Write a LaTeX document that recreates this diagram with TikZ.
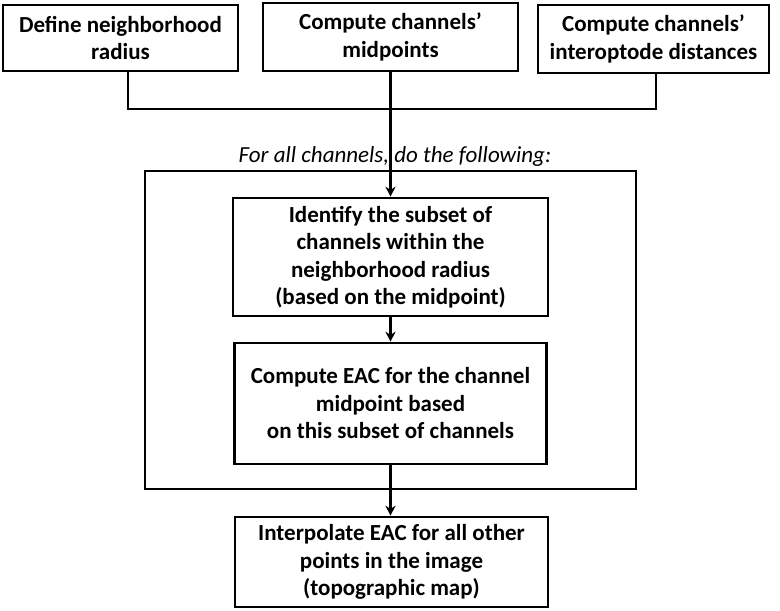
\documentclass[tikz,border=0pt]{standalone}
\usepackage{fontspec}
\setmainfont{Carlito}
\usetikzlibrary{arrows.meta}
\begin{document}
\begin{tikzpicture}[x=1pt,y=-1pt,
  box/.style={draw=black,line width=2.6pt,inner sep=0pt,align=center,
    font=\bfseries\fontsize{23}{27.5}\selectfont},
  conn/.style={draw=black,line width=2.6pt},
  arr/.style={conn,-{Stealth[length=10pt,width=10pt]}}]
\useasboundingbox (0,0) rectangle (780,611);
% top row
\node[box,minimum width=235pt,minimum height=66pt] (b1) at (120.5,38) {Define neighborhood\\radius};
\node[box,minimum width=255pt,minimum height=68pt] (b2) at (390.5,37) {Compute channels’\\midpoints};
\node[box,minimum width=231pt,minimum height=68pt] (b3) at (653.5,39) {Compute channels’\\interoptode distances};
% loop frame
\node[draw=black,line width=2.6pt,inner sep=0pt,minimum width=491pt,minimum height=318pt] (loop) at (390.5,330) {};
\node[font=\itshape\fontsize{23}{27}\selectfont,inner sep=0pt] (cap) at (395,156) {For all channels, do the following:};
% inner boxes
\node[box,minimum width=315pt,minimum height=118pt] (in1) at (390.5,257) {Identify the subset of\\channels within the\\neighborhood radius\\(based on the midpoint)};
\node[box,minimum width=312pt,minimum height=121pt] (in2) at (390.5,403.5) {Compute EAC for the channel\\midpoint based\\on this subset of channels};
\node[box,minimum width=313pt,minimum height=90pt] (fin) at (391.5,562) {Interpolate EAC for all other\\points in the image\\(topographic map)};
% connectors
\coordinate (j) at (390.5,109);
\draw[conn] ([xshift=7.5pt]b1.south) |- (j);
\draw[conn] ([xshift=2.5pt]b3.south) |- (j);
\draw[arr] (b2.south) -- (in1.north);
\draw[arr] (in1.south) -- (in2.north);
\draw[arr] (in2.south) -- (in2.south |- fin.north);
\end{tikzpicture}
\end{document}
